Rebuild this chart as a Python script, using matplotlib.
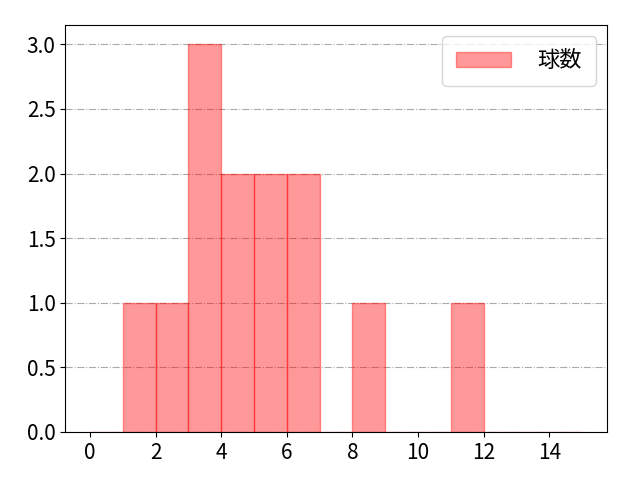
import matplotlib
matplotlib.use("Agg")
import matplotlib.pyplot as plt
import numpy as np

plt.rcParams['font.family'] = ['Noto Sans CJK JP', 'DejaVu Sans']

# pitch counts
pitches = [1, 2, 3, 3, 3, 4, 4, 5, 5, 6, 6, 8, 11]
bin_edges = list(range(0, 16))

fig, ax = plt.subplots(figsize=(6.4, 4.8), dpi=100)
ax.hist(pitches, bins=bin_edges, color='red', alpha=0.4, edgecolor='red',
        label='球数')
ax.grid(axis='y', linestyle='-.', color='#aaaaaa')
ax.set_axisbelow(True)
ax.set_xticks(range(0, 16, 2))
ax.tick_params(labelsize=15)
ax.legend(fontsize=16, handlelength=2.5, handletextpad=1.2, borderpad=0.6)
fig.subplots_adjust(left=0.102, right=0.948, top=0.948, bottom=0.1)
fig.savefig('out.png')
